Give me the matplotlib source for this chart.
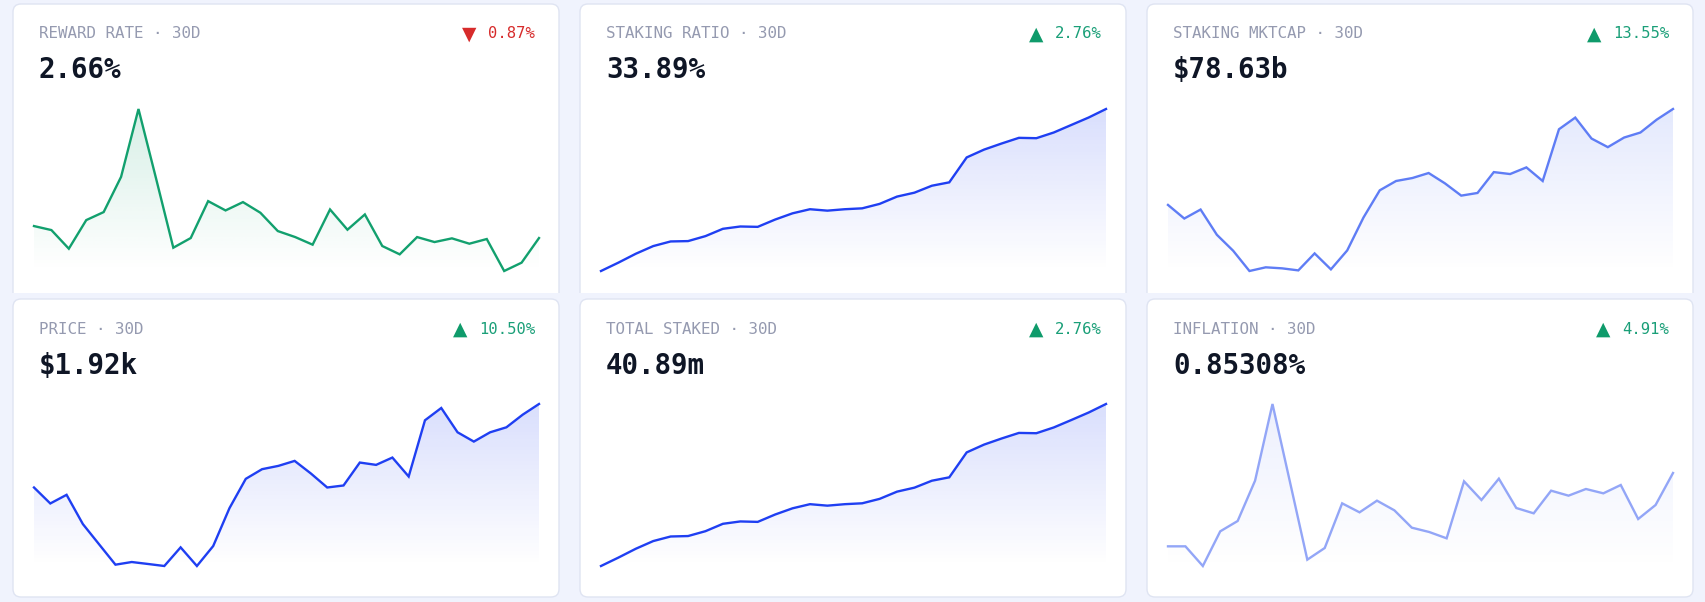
import numpy as np
import matplotlib
matplotlib.use("Agg")
import matplotlib.pyplot as plt
from matplotlib.patches import FancyBboxPatch, Rectangle
from matplotlib.colors import to_rgb

# ---------------- data ----------------
titles = ["REWARD RATE · 30D", "STAKING RATIO · 30D", "STAKING MKTCAP · 30D",
          "PRICE · 30D", "TOTAL STAKED · 30D", "INFLATION · 30D"]
values = ["2.66%", "33.89%", "$78.63b", "$1.92k", "40.89m", "0.85308%"]
changes = ["0.87%", "2.76%", "13.55%", "10.50%", "2.76%", "4.91%"]
directions = ["down", "up", "up", "up", "up", "up"]

reward_rate = [2.6833, 2.6755, 2.6393, 2.6949, 2.7105, 2.7790, 2.9110, 2.7771, 2.6412, 2.6600,
               2.7318, 2.7137, 2.7299, 2.7092, 2.6736, 2.6619, 2.6471, 2.7156, 2.6762, 2.7059,
               2.6445, 2.6283, 2.6619, 2.6522, 2.6594, 2.6490, 2.6581, 2.5959, 2.6121, 2.6600]

staking_ratio = [32.980, 33.027, 33.077, 33.120, 33.146, 33.148, 33.176, 33.217, 33.230, 33.228,
                 33.269, 33.304, 33.327, 33.319, 33.327, 33.332, 33.357, 33.398, 33.420, 33.459,
                 33.478, 33.618, 33.662, 33.696, 33.728, 33.726, 33.758, 33.800, 33.842, 33.890]

staking_mktcap = [69.25, 67.92, 68.80, 66.33, 64.77, 62.79, 63.15, 63.05, 62.85, 64.51,
                  62.95, 64.80, 68.02, 70.68, 71.59, 71.88, 72.37, 71.36, 70.16, 70.42,
                  72.46, 72.27, 72.92, 71.59, 76.65, 77.79, 75.74, 74.90, 75.84, 76.33,
                  77.59, 78.63]

price = [1737.6, 1702.7, 1721.6, 1657.7, 1613.3, 1569.0, 1574.8, 1570.5, 1566.1, 1606.8,
         1566.1, 1609.7, 1692.5, 1756.5, 1777.6, 1784.8, 1795.7, 1768.1, 1737.6, 1742.0,
         1792.1, 1787.0, 1803.0, 1761.6, 1884.4, 1911.3, 1858.2, 1837.9, 1858.2, 1869.1,
         1896.7, 1920.0]

total_staked = [39.792, 39.849, 39.909, 39.961, 39.992, 39.995, 40.028, 40.078, 40.094, 40.091,
                40.141, 40.183, 40.211, 40.201, 40.211, 40.217, 40.247, 40.296, 40.323, 40.370,
                40.393, 40.562, 40.615, 40.656, 40.694, 40.692, 40.731, 40.781, 40.832, 40.890]

inflation = [0.81315, 0.81315, 0.80244, 0.82132, 0.82694, 0.84891, 0.89065, 0.84836, 0.80589, 0.81224,
             0.83656, 0.83166, 0.83802, 0.83275, 0.82331, 0.82095, 0.81751, 0.84854, 0.83838, 0.84999,
             0.83402, 0.83112, 0.84346, 0.84074, 0.84437, 0.84201, 0.84655, 0.82803, 0.83566, 0.85308]

series = [reward_rate, staking_ratio, staking_mktcap, price, total_staked, inflation]
line_colors = ["#12a06e", "#1f3ff2", "#5f7df5", "#1f3ff2", "#1f3ff2", "#93a6f7"]

# ---------------- layout (pixels) ----------------
W, H = 1706, 602
BG = "#f0f3fd"
fig = plt.figure(figsize=(W / 100, H / 100), dpi=100, facecolor=BG)
bg = fig.add_axes([0, 0, 1, 1])
bg.set_xlim(0, W)
bg.set_ylim(H, 0)
bg.axis("off")
bg.set_facecolor(BG)

card_lefts = [13, 580, 1147]
card_w = 546
card_tops = [4, 299]
card_h = 298
top_clip = Rectangle((0, 0), W, 293, transform=bg.transData)

green_up = "#0f9b6b"
green_txt = "#1a9f78"
red = "#d72b2b"

for i in range(6):
    row, col = divmod(i, 3)
    L = card_lefts[col]
    T = card_tops[row]
    R = L + card_w
    card = FancyBboxPatch((L, T), card_w, card_h,
                          boxstyle="round,pad=0,rounding_size=8",
                          facecolor="white", edgecolor="#dfe4f2", linewidth=1.0,
                          transform=bg.transData, zorder=1)
    bg.add_patch(card)
    if row == 0:
        card.set_clip_path(top_clip)

    # title
    bg.text(L + 26, T + 34.5, titles[i], family="DejaVu Sans Mono", fontsize=11.4,
            color="#959ab0", ha="left", va="baseline", zorder=3)
    # value
    bg.text(L + 26, T + 74.5, values[i], family="DejaVu Sans Mono", fontsize=19.8,
            fontweight="bold", color="#0f1626", ha="left", va="baseline", zorder=3)
    # change
    up = directions[i] == "up"
    tcol = green_txt if up else red
    x_r = R - 24
    bg.text(x_r, T + 34.5, changes[i], family="DejaVu Sans Mono", fontsize=11.2,
            color=tcol, ha="right", va="baseline", zorder=3)
    char_w = 0.602 * 11.2 * 100 / 72
    x_tri = x_r - len(changes[i]) * char_w - 12
    bg.text(x_tri, T + 35.5, "▲" if up else "▼", family="DejaVu Sans",
            fontsize=13.5, color=green_up if up else red, ha="right", va="baseline", zorder=3)

    # sparkline axes
    ax_l = L + 21
    ax_r = R - 20
    ax_t = T + 105
    ax_b = T + 267
    ax = fig.add_axes([ax_l / W, 1 - ax_b / H, (ax_r - ax_l) / W, (ax_b - ax_t) / H])
    ax.patch.set_alpha(0)
    ax.axis("off")
    y = np.array(series[i], dtype=float)
    x = np.arange(len(y))
    ymin, ymax = y.min(), y.max()
    ax.set_xlim(0, len(y) - 1)
    ax.set_ylim(ymin, ymax)
    col_rgb = to_rgb(line_colors[i])
    grad = np.zeros((256, 1, 4))
    grad[:, 0, :3] = col_rgb
    grad[:, 0, 3] = np.linspace(0.0, 0.17, 256)
    poly = ax.fill_between(x, y, ymin, color="none", linewidth=0)
    im = ax.imshow(grad, extent=[0, len(y) - 1, ymin, ymax], origin="lower",
                   aspect="auto", interpolation="bilinear", zorder=1)
    im.set_clip_path(poly.get_paths()[0], transform=ax.transData)
    ax.plot(x, y, color=line_colors[i], linewidth=1.7, solid_joinstyle="miter",
            clip_on=False, zorder=2)

fig.savefig("out.png", dpi=100, facecolor=BG)
